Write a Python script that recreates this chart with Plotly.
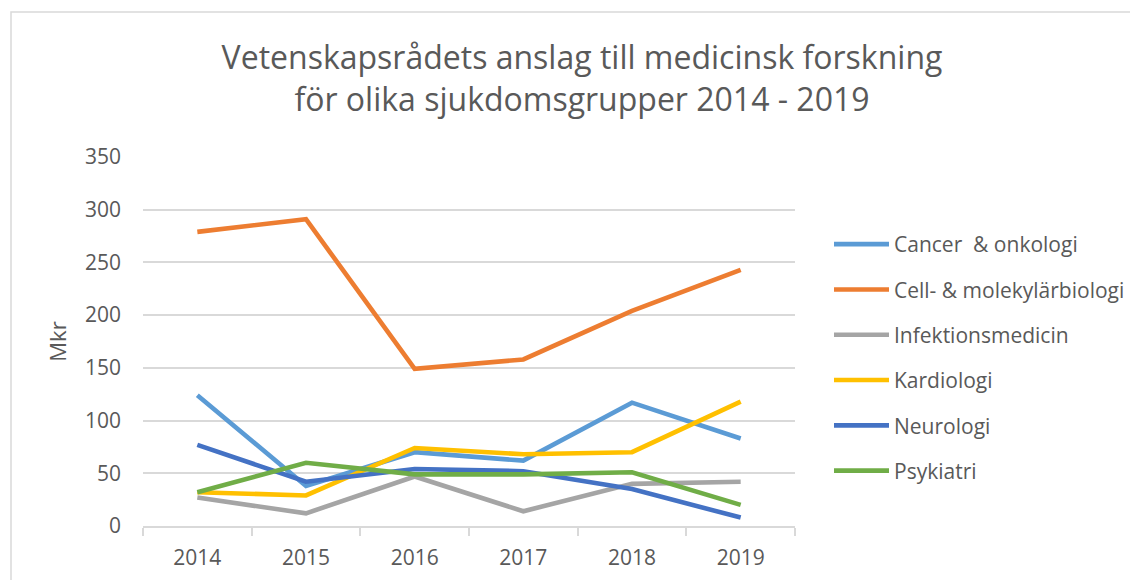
import plotly.graph_objects as go

years = ["2014", "2015", "2016", "2017", "2018", "2019"]
series_names = ["Cancer  & onkologi", "Cell- & molekylärbiologi", "Infektionsmedicin",
                "Kardiologi", "Neurologi", "Psykiatri"]
cancer = [124, 38, 70, 62, 117, 83]
cell = [279, 291, 149, 158, 204, 243]
infektion = [27, 12, 47, 14, 40, 42]
kardiologi = [32, 29, 74, 68, 70, 118]
neurologi = [77, 42, 54, 52, 35, 8]
psykiatri = [32, 60, 49, 49, 51, 20]
colors = ["#5B9BD5", "#ED7D31", "#A5A5A5", "#FFC000", "#4472C4", "#70AD47"]
y_ticks = [0, 50, 100, 150, 200, 250, 300, 350]

all_values = [cancer, cell, infektion, kardiologi, neurologi, psykiatri]

# page body has an 8px margin; work in figure coordinates
OFF = 8
W, H = 1138 - OFF, 580 - OFF
L, R, T, B = 143 - OFF, 795 - OFF, 157 - OFF, 526 - OFF
font_family = "Open Sans, Lato, sans-serif"
txt = "#595959"

fig = go.Figure()
for name, vals, col in zip(series_names, all_values, colors):
    fig.add_trace(go.Scatter(
        x=years, y=vals, name=name, mode="lines", legendgroup=name,
        line=dict(color=col, width=4.6),
    ))

def px2x(px):
    return (px - OFF - L) / (R - L)

def px2y(py):
    return (B - (py - OFF)) / (B - T)

fig.update_layout(
    width=W, height=H,
    margin=dict(l=L, r=W - R, t=T, b=H - B, pad=0, autoexpand=False),
    paper_bgcolor="white", plot_bgcolor="white",
    font=dict(family=font_family, color=txt),
    title=dict(
        text="Vetenskapsrådets anslag till medicinsk forskning<br>för olika sjukdomsgrupper 2014 - 2019",
        x=(582 - OFF) / W, xanchor="center", y=1 - 61 / H, yanchor="middle",
        font=dict(size=32, color=txt, family=font_family),
    ),
    xaxis=dict(
        type="category", range=[-0.5, 5.5], showgrid=False, automargin=False,
        showline=True, linecolor="#d9d9d9", linewidth=1.5,
        ticks="outside", tickson="boundaries", ticklen=8, tickcolor="#d9d9d9", tickwidth=1.5,
        ticklabelstandoff=12,
        tickfont=dict(size=21, color=txt), fixedrange=True,
    ),
    yaxis=dict(
        range=[0, 350], tickvals=y_ticks, showgrid=True, gridcolor="#d9d9d9", gridwidth=1.5,
        zeroline=False, showline=False, ticks="", ticklabelstandoff=21, automargin=False,
        tickfont=dict(size=21, color=txt),
        title=dict(text="Mkr", font=dict(size=22, color=txt), standoff=12),
    ),
    legend=dict(
        x=px2x(829), xanchor="left", y=px2y(224), yanchor="top",
        font=dict(size=21, color=txt), tracegroupgap=15, itemwidth=55,
        bgcolor="rgba(0,0,0,0)",
    ),
    showlegend=True,
    shapes=[dict(
        type="rect", xref="paper", yref="paper",
        x0=px2x(11), x1=px2x(1160), y0=px2y(600), y1=px2y(12),
        line=dict(color="#d9d9d9", width=1.5), fillcolor="rgba(0,0,0,0)", layer="below",
    )],
)

fig.write_html("out.html")
